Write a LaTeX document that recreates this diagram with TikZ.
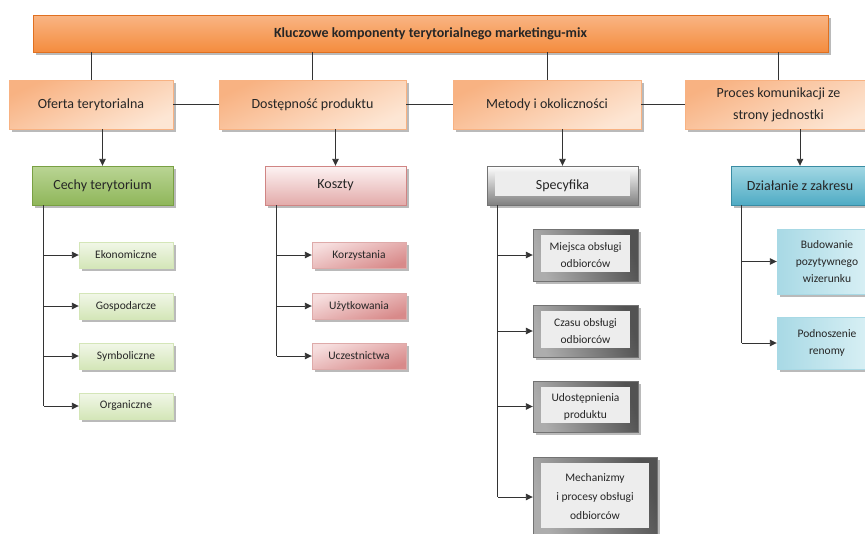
\documentclass[tikz,border=0pt]{standalone}
\usepackage{fontspec}
\setmainfont{Carlito}
\usetikzlibrary{arrows.meta,positioning,calc,shadows}

\definecolor{orTop}{HTML}{F9B584}
\definecolor{orBot}{HTML}{F48C3E}
\definecolor{orLine}{HTML}{E07020}
\definecolor{peachA}{HTML}{F8B282}
\definecolor{peachB}{HTML}{FDE6D4}
\definecolor{grA}{HTML}{BAD594}
\definecolor{grB}{HTML}{8FB65A}
\definecolor{grLine}{HTML}{79A043}
\definecolor{grLA}{HTML}{F1F7E8}
\definecolor{grLB}{HTML}{D4E6B8}
\definecolor{pkA}{HTML}{FDF3F3}
\definecolor{pkB}{HTML}{E3ABAA}
\definecolor{pkLine}{HTML}{D08584}
\definecolor{pkLA}{HTML}{F6DEDE}
\definecolor{pkLB}{HTML}{D88A8A}
\definecolor{tlA}{HTML}{A3D8E4}
\definecolor{tlB}{HTML}{4FABC4}
\definecolor{tlLine}{HTML}{3A8CA3}
\definecolor{tlLA}{HTML}{A8D9E5}
\definecolor{tlLB}{HTML}{DDF2F6}

\begin{document}
\begin{tikzpicture}[x=1pt, y=-1pt,
    box/.style={draw, align=center, inner sep=2pt, text=black!85,
        drop shadow={shadow xshift=2.5pt, shadow yshift=-2.5pt, fill=black!45, opacity=0.6}},
    head/.style={box, draw=orLine, top color=orTop, bottom color=orBot, font=\fontsize{14}{16}\selectfont\bfseries,
        minimum width=795pt, minimum height=37pt},
    comp/.style={box, draw=peachA, top color=peachA, bottom color=peachB, shading angle=25,
        font=\fontsize{14}{22}\selectfont, minimum height=49pt},
    grbox/.style={box, draw=grLine, top color=grA, bottom color=grB, font=\fontsize{14}{16}\selectfont,
        minimum width=141pt, minimum height=39pt},
    grsub/.style={box, draw=grLB, top color=grLA, bottom color=grLB, font=\fontsize{11.5}{14}\selectfont,
        minimum width=94pt, minimum height=26pt},
    pkbox/.style={box, draw=pkLine, top color=pkA, bottom color=pkB, font=\fontsize{14}{16}\selectfont,
        minimum width=141pt, minimum height=39pt},
    pksub/.style={box, draw=pkLine!70, top color=pkLA, bottom color=pkLB, shading angle=20,
        font=\fontsize{11.5}{14}\selectfont, minimum width=94pt, minimum height=26pt},
    gybox/.style={box, draw=black!55, top color=white, bottom color=black!50, font=\fontsize{14}{16}\selectfont,
        minimum width=151pt, minimum height=39pt,
        path picture={\fill[black!7] ($(path picture bounding box.north west)+(8pt,-6pt)$) rectangle ($(path picture bounding box.south east)+(-8pt,9pt)$);}},
    gysub/.style={box, draw=black!55, left color=black!68, right color=black!32, shading angle=-70,
        font=\fontsize{11.5}{17}\selectfont, minimum width=105pt,
        path picture={\fill[black!7] ($(path picture bounding box.north west)+(8pt,-6pt)$) rectangle ($(path picture bounding box.south east)+(-8pt,9pt)$);}},
    tlbox/.style={box, draw=tlLine, top color=tlA, bottom color=tlB, font=\fontsize{14}{16}\selectfont,
        minimum width=138pt, minimum height=39pt},
    tlsub/.style={box, draw=tlLA, left color=tlLA, right color=tlLB, font=\fontsize{11.5}{17}\selectfont,
        minimum width=100pt},
    line/.style={line width=0.9pt, black!80},
    arr/.style={line, -{Triangle[length=7pt, width=6.5pt]}}
]
\useasboundingbox (0,0) rectangle (865,533);

% naglowek i komponenty
\node[head] (K) at (430.5,33.5) {Kluczowe komponenty terytorialnego marketingu-mix};
\node[comp, minimum width=164pt] (O) at (91,104.5) {Oferta terytorialna};
\node[comp, minimum width=187pt] (D) at (312.5,104.5) {Dostępność produktu};
\node[comp, minimum width=188pt] (M) at (547,104.5) {Metody i okoliczności};
\node[comp, minimum width=187pt] (P) at (778.5,104.5) {Proces komunikacji ze\\strony jednostki};

% drugi poziom
\node[grbox] (C) at (102.5,185.5) {Cechy terytorium};
\node[pkbox] (Ko) at (335.5,185.5) {Koszty};
\node[gybox] (S) at (562.5,185.5) {Specyfika};
\node[tlbox] (Dz) at (800,185.5) {Działanie z zakresu};

% cechy terytorium
\node[grsub] (c1) at (126,255) {Ekonomiczne};
\node[grsub] (c2) at (126,306) {Gospodarcze};
\node[grsub] (c3) at (126,356) {Symboliczne};
\node[grsub] (c4) at (126,406) {Organiczne};

% koszty
\node[pksub] (k1) at (359,255) {Korzystania};
\node[pksub] (k2) at (359,306) {Użytkowania};
\node[pksub] (k3) at (359,356) {Uczestnictwa};

% specyfika
\node[gysub, minimum height=52pt] (s1) at (585.5,255) {Miejsca obsługi\\odbiorców};
\node[gysub, minimum height=52pt] (s2) at (585.5,331) {Czasu obsługi\\odbiorców};
\node[gysub, minimum height=51pt] (s3) at (585.5,406.5) {Udostępnienia\\produktu};
\node[gysub, minimum width=124pt, minimum height=80pt, font=\fontsize{11.5}{19}\selectfont] (s4) at (595,497) {Mechanizmy\\i procesy obsługi\\odbiorców};

% dzialanie z zakresu
\node[tlsub, minimum height=65pt] (d1) at (827,261.5) {Budowanie\\pozytywnego\\wizerunku};
\node[tlsub, minimum height=52pt] (d2) at (827,343) {Podnoszenie\\renomy};

% polaczenia
\foreach \n in {O,D,M,P}
    \draw[line] (K.south -| \n.north) -- (\n.north);
\draw[line] (O) -- (D);
\draw[line] (D) -- (M);
\draw[line] (M) -- (P);
\draw[arr] (O.south -| C.north) -- (C.north);
\draw[arr] (D.south -| Ko.north) -- (Ko.north);
\draw[arr] (M.south -| S.north) -- (S.north);
\draw[arr] (P.south -| Dz.north) -- (Dz.north);

\coordinate (tc) at ($(C.south west)+(12pt,0)$);
\coordinate (tk) at ($(Ko.south west)+(12pt,0)$);
\coordinate (ts) at ($(S.south west)+(11pt,0)$);
\coordinate (td) at ($(Dz.south west)+(11pt,0)$);

\draw[line] (tc) -- (tc |- c4.west);
\draw[arr] (tc |- c1.west) -- (c1.west);
\draw[arr] (tc |- c2.west) -- (c2.west);
\draw[arr] (tc |- c3.west) -- (c3.west);
\draw[arr] (tc |- c4.west) -- (c4.west);

\draw[line] (tk) -- (tk |- k3.west);
\draw[arr] (tk |- k1.west) -- (k1.west);
\draw[arr] (tk |- k2.west) -- (k2.west);
\draw[arr] (tk |- k3.west) -- (k3.west);

\draw[line] (ts) -- (ts |- s4.west);
\draw[arr] (ts |- s1.west) -- (s1.west);
\draw[arr] (ts |- s2.west) -- (s2.west);
\draw[arr] (ts |- s3.west) -- (s3.west);
\draw[arr] (ts |- s4.west) -- (s4.west);

\draw[line] (td) -- (td |- d2.west);
\draw[arr] (td |- d1.west) -- (d1.west);
\draw[arr] (td |- d2.west) -- (d2.west);
\end{tikzpicture}
\end{document}
